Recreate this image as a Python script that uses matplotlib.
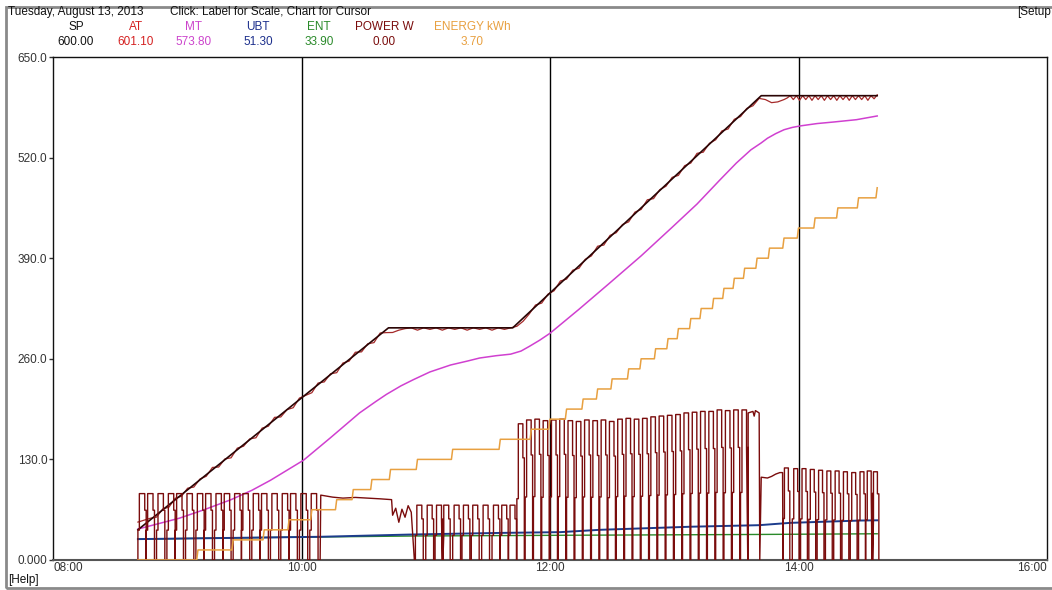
import numpy as np
import matplotlib
matplotlib.use("Agg")
import matplotlib.pyplot as plt
from matplotlib.patches import Rectangle

plt.rcParams['font.family'] = ['Liberation Sans', 'DejaVu Sans']

# ---------------- data (time = minutes after 08:00) ----------------
sp_t = [41, 162, 222, 342, 398]
sp_v = [39, 300, 300, 600, 600]

# AT read as offset from SP; section A every 3 min from 41, section B every 1.5 min from 354.5
at_dev_a = [10, 6, 2, -3, 1, -3, 2, -2, 2, -3,
            1, -2, 3, -3, 1, -4, 2, -2, 1, -4,
            2, -2, 3, -3, 0, -4, 2, -1, -4, 2,
            -3, 1, -4, 2, -2, 3, -3, 1, -4, 2,
            -4, -6, -3, -1, 0, -3, 0, -2, 0, -3,
            0, -2, 0, -3, 0, -2, 0, -3, 0, -2,
            0, -3, -4, -2, 2, -3, 1, -2, 3, -2,
            2, -3, 1, -2, 3, -3, 2, -2, 1, -3,
            2, -2, 3, -3, 1, -2, 2, -3, 2, -2,
            3, -3, 1, -2, 2, -3, 2, -2, 1, -3,
            -1, -5, -9, -8, -5]
at_dev_b = [-3, 0, -5, 0, -6, 0, -5, 0, -6, 0,
            -5, 0, -6, 0, -5, 0, -6, 0, -5, 0,
            -6, 0, -5, 0, -5, 0, -6, 0, -4, 1.1]

mt_t = [41, 51, 61, 73, 86, 96, 105, 113, 121, 134, 148, 156, 161, 168, 174, 182, 192, 200,
        206, 214, 221, 226, 230, 235, 240, 254, 268, 284, 299, 311, 322, 330, 337, 342,
        345, 349, 353, 357, 361, 369, 377, 388, 398]
mt_v = [40, 47, 54, 65, 78, 90, 103, 116, 129, 158, 190, 205, 214, 225, 233, 243, 252, 257,
        261, 264, 266, 270, 276, 284, 293, 324, 356, 393, 430, 460, 491, 513, 530, 539,
        545, 551, 556, 559, 561, 564, 566, 569, 573.8]

ubt_t = [41, 129, 174, 216, 245, 264, 308, 341, 356, 390, 398]
ubt_v = [27, 30, 33, 35, 36, 39, 43, 45, 48, 51, 51.3]

ent_t = [41, 100, 174, 250, 340, 398]
ent_v = [27, 29, 31, 32, 33, 33.9]

energy_t = [70, 87, 102, 114, 125, 137, 145, 154, 163, 176, 193, 216, 231, 240,
            248, 256, 263, 270, 278, 284, 291, 297, 302, 308, 313, 319, 324, 329,
            334, 340, 346, 353, 360, 368, 379, 389, 398]
energy_kwh = [0.1, 0.2, 0.3, 0.4, 0.5, 0.6, 0.7, 0.8, 0.9, 1.0, 1.1, 1.2, 1.3, 1.4,
              1.5, 1.6, 1.7, 1.8, 1.9, 2.0, 2.1, 2.2, 2.3, 2.4, 2.5, 2.6, 2.7, 2.8,
              2.9, 3.0, 3.1, 3.2, 3.3, 3.4, 3.5, 3.6, 3.7]

# power heater pulses (start minute, level W) per phase
p1_start = [41, 45, 50, 55, 59, 64, 69, 73, 78, 82, 87, 91, 96, 100, 105, 110, 114, 119, 124]
p1_level = [660] * len(p1_start)
p1_on = 2.6
p1b_start = [175, 180, 184.5, 188, 193, 197.5, 202, 207, 212, 216, 220]
p1b_level = [545] * len(p1b_start)
p1b_on = 2.4
p2_start = [224, 228, 232, 236, 240, 244, 248, 252, 256, 260, 264, 268, 272, 276,
            280, 284, 288, 292, 296, 300, 304, 308, 312, 316, 320, 324, 328, 332]
p2_level = [1354, 1392, 1400, 1385, 1392, 1400, 1385, 1377, 1392, 1385, 1392, 1377, 1400, 1408,
            1400, 1408, 1423, 1431, 1438, 1446, 1462, 1469, 1477, 1477, 1492, 1485, 1492, 1492]
p2_on = 2.2
p3_start = [352.5, 357, 361, 365, 369, 373, 377, 381, 385, 389, 392.5, 395.5]
p3_level = [915, 908, 908, 900, 892, 885, 885, 877, 869, 877, 885, 877]
p3_on = 1.9
# continuous (non-pulsed) stretches of power
flat_t = [129, 129.3, 135, 140, 146, 152, 158, 163.5, 164, 165.5, 167, 168.5, 170, 171.5, 173, 174.5,
          335.5, 335.7, 338, 338.6, 339.2, 341, 341.3,
          342, 345, 347, 349, 351, 352.3]
flat_v = [0, 645, 625, 615, 622, 615, 608, 600, 445, 515, 375, 505, 425, 540, 475, 0,
          0, 1462, 1477, 1430, 1485, 1462, 0,
          823, 815, 831, 854, 869, 869]

header_names = ["SP", "AT", "MT", "UBT", "ENT", "POWER W", "ENERGY kWh"]
header_values = ["600.00", "601.10", "573.80", "51.30", "33.90", "0.00", "3.70"]
header_colors = ["#111111", "#d42020", "#cc44cc", "#1c2f8c", "#2a8a2a", "#7a0c0c", "#e8a040"]
header_x = [76, 136, 194, 258, 319, 384, 472]

y_ticks = [0, 130, 260, 390, 520, 650]
y_labels = ["0.000", "130.0", "260.0", "390.0", "520.0", "650.0"]
x_ticks = [0, 120, 240, 360, 480]
x_labels = ["08:00", "10:00", "12:00", "14:00", "16:00"]
cursor_lines = [120, 240, 360]

# ---------------- figure ----------------
W, H = 1052, 590
fig = plt.figure(figsize=(W / 100, H / 100), dpi=100)
fig.patch.set_facecolor("white")

def fx(x):
    return x / W

def fy(y):
    return 1 - y / H

FS = 8.5
L, R, T, B = 53, 1047, 57, 560
ax = fig.add_axes([fx(L), fy(B), (R - L) / W, (B - T) / H])
ax.set_xlim(0, 480)
ax.set_ylim(0, 650)

for s in ["left", "top", "right"]:
    ax.spines[s].set_color("#111111")
    ax.spines[s].set_linewidth(1.0)
ax.spines["bottom"].set_color("#555555")
ax.spines["bottom"].set_linewidth(1.5)

ax.set_yticks(y_ticks)
ax.set_yticklabels(y_labels)
ax.set_xticks(x_ticks)
ax.set_xticklabels(x_labels)
ax.tick_params(axis="y", length=3, width=1, color="#333333", pad=1,
               labelsize=FS, labelcolor="#333333")
ax.tick_params(axis="x", length=0, pad=1.5, labelsize=FS, labelcolor="#333333")
xl = ax.get_xticklabels()
xl[0].set_ha("left")
xl[-1].set_ha("right")

for c in cursor_lines:
    ax.axvline(c, color="black", lw=1.0, zorder=1)

# twin axes for power (W) and energy (kWh)
axp = ax.twinx()
axp.set_ylim(0, 5000)
axe = ax.twinx()
axe.set_ylim(0, 5)
for a in (axp, axe):
    a.set_axis_off()

# build power trace (each pulse drawn with the logger's partial-sample steps)
pts = list(zip(flat_t, flat_v))
dt = 0.7
for starts, levels, on in [(p1_start, p1_level, p1_on), (p1b_start, p1b_level, p1b_on),
                           (p2_start, p2_level, p2_on), (p3_start, p3_level, p3_on)]:
    for s, lv in zip(starts, levels):
        pts += [(s, 0), (s + 0.001, 0.45 * lv), (s + dt, 0.45 * lv), (s + dt + 0.001, lv),
                (s + dt + on, lv), (s + dt + on + 0.001, 0.75 * lv),
                (s + 2 * dt + on, 0.75 * lv), (s + 2 * dt + on + 0.001, 0)]
pts.sort(key=lambda p: p[0])
pt = [p[0] for p in pts]
pv = [p[1] for p in pts]
axp.plot(pt, pv, color="#7a0c0c", lw=1.0, zorder=2)

# energy staircase
et = [41]
ev = [0]
prev = 0
for t, e in zip(energy_t, energy_kwh):
    et += [t - 0.6, t]
    ev += [prev, e]
    prev = e
axe.plot(et, ev, color="#e8a040", lw=1.1, zorder=3)

ax.plot(ent_t, ent_v, color="#2a8a2a", lw=1.0, zorder=3)
ax.plot(ubt_t, ubt_v, color="#1c3c8c", lw=1.4, zorder=3)
ax.plot(mt_t, mt_v, color="#d040d0", lw=1.1, zorder=4)

at_t = list(np.arange(41, 354, 3)) + list(np.arange(354.5, 398.1, 1.5))
at_dev = at_dev_a + at_dev_b
at_v = np.interp(at_t, sp_t, sp_v) + np.array(at_dev)
ax.plot(at_t, at_v, color="#a52a2a", lw=0.9, zorder=5)
ax.plot(sp_t, sp_v, color="#2a0505", lw=1.2, zorder=6)

# ---------------- header / frame ----------------
fig.patches.append(Rectangle((fx(6), fy(588)), 1.2, fy(7) - fy(588), transform=fig.transFigure,
                             fill=False, edgecolor="#8a8a8a", lw=2, zorder=0))
fig.text(fx(8), fy(12), "Tuesday, August 13, 2013", fontsize=FS, color="#111111", va="center")
fig.text(fx(170), fy(12), "Click: Label for Scale, Chart for Cursor", fontsize=FS,
         color="#111111", va="center")
fig.text(fx(1051), fy(12), "[Setup", fontsize=FS, color="#111111", va="center", ha="right")
fig.text(fx(8), fy(580), "[Help]", fontsize=FS, color="#111111", va="center")
for n, v, c, x in zip(header_names, header_values, header_colors, header_x):
    fig.text(fx(x), fy(27), n, fontsize=FS, color=c, ha="center", va="center")
    fig.text(fx(x), fy(42), v, fontsize=FS, color=c, ha="center", va="center")

fig.savefig("out.png", dpi=100)
